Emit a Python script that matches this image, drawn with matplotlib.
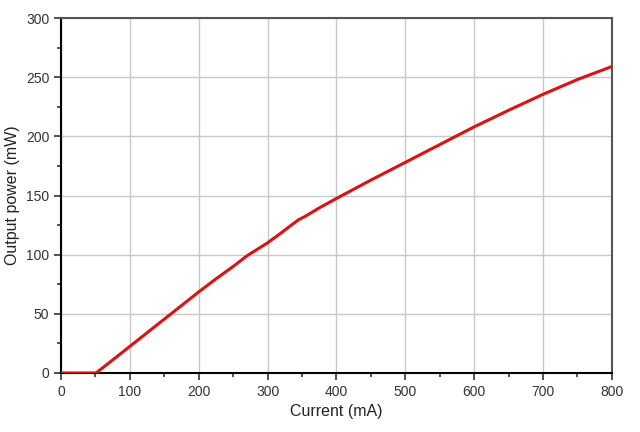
import numpy as np
import matplotlib.pyplot as plt
from matplotlib.ticker import MultipleLocator

plt.rcParams['font.family'] = ['Liberation Sans', 'DejaVu Sans']

# Laser L-I curve
current = [0, 50, 52, 75, 100, 125, 150, 175, 200, 225, 250, 270, 300, 320, 330,
           345, 355, 375, 400, 450, 500, 550, 600, 650, 700, 750, 800]
power = [0, 0, 0.5, 11, 22.5, 34, 45.5, 57, 68.5, 79.5, 90, 99, 110, 118.5, 123,
         129.5, 132.5, 139.5, 147.5, 163, 178, 193, 208, 222, 235.5, 248, 259]

fig = plt.figure(figsize=(6.4, 4.32), dpi=100)
ax = fig.add_axes([0.0953, 0.1366, 0.8607, 0.8217])

ax.plot(current, power, color='#e01010', linewidth=2.2, zorder=3)

ax.set_xlim(0, 800)
ax.set_ylim(0, 300)
ax.xaxis.set_major_locator(MultipleLocator(100))
ax.xaxis.set_minor_locator(MultipleLocator(50))
ax.yaxis.set_major_locator(MultipleLocator(50))
ax.yaxis.set_minor_locator(MultipleLocator(25))
ax.grid(True, which='major', color='#c8c8c8', linewidth=1)
ax.tick_params(which='both', direction='out', labelsize=10, colors='#333333')
ax.tick_params(which='major', length=5, width=1.2)
ax.tick_params(which='minor', length=3, width=1.2)

ax.spines['left'].set_linewidth(1.5)
ax.spines['bottom'].set_linewidth(1.5)
ax.spines['top'].set_color('#555555')
ax.spines['right'].set_color('#555555')
ax.spines['top'].set_linewidth(1.5)
ax.spines['right'].set_linewidth(1.5)

ax.set_xlabel('Current (mA)', fontsize=11.5, color='#222222')
ax.set_ylabel('Output power (mW)', fontsize=11.5, color='#222222')

plt.savefig('out.png', dpi=100)
